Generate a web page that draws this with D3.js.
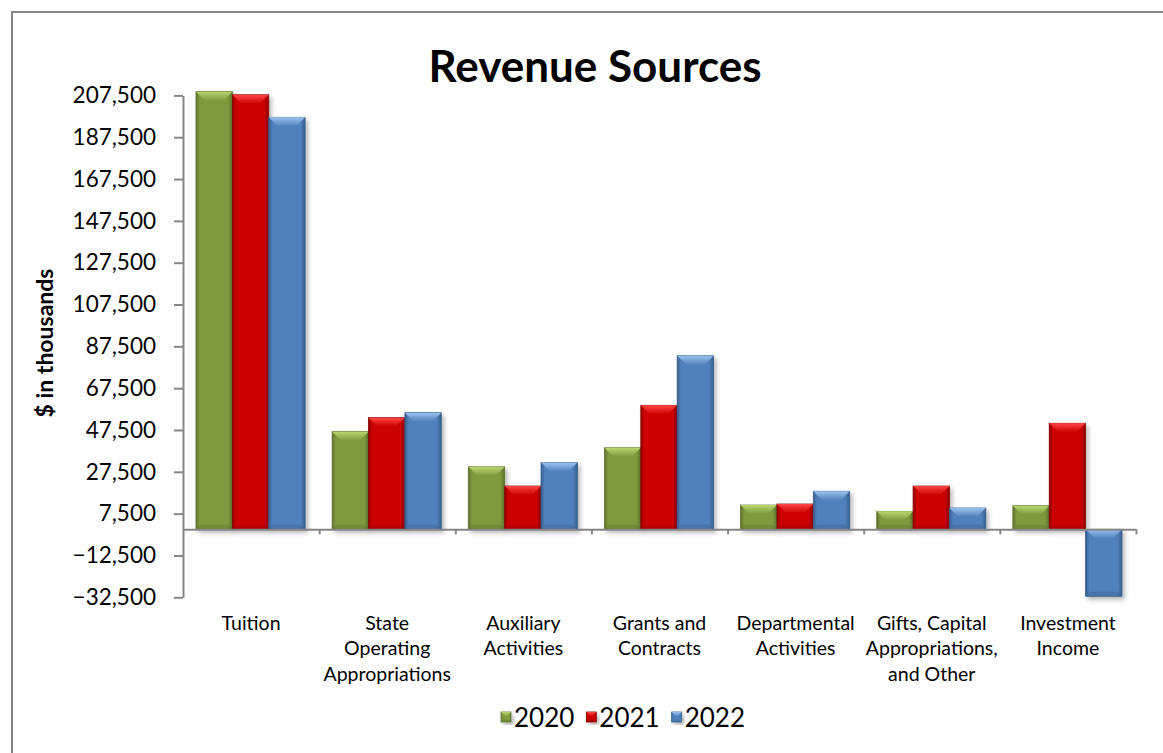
<!DOCTYPE html>
<html><head><meta charset="utf-8">
<script src="https://cdn.jsdelivr.net/npm/d3@7"></script>
<style>
body{margin:0;background:#fff}
svg text{font-family:Lato,'Open Sans',sans-serif;fill:#000}
</style>
</head><body>
<svg id="c" width="1163" height="753"></svg>
<script>
// ---- data ----
const categories = ["Tuition","State Operating Appropriations","Auxiliary Activities","Grants and Contracts","Departmental Activities","Gifts, Capital Appropriations, and Other","Investment Income"];
const categoryLines = [["Tuition"],["State","Operating","Appropriations"],["Auxiliary","Activities"],["Grants and","Contracts"],["Departmental","Activities"],["Gifts, Capital","Appropriations,","and Other"],["Investment","Income"]];
const seriesNames = ["2020","2021","2022"];
const values2020 = [209300, 46700, 29900, 39000, 11600, 8600, 11300];
const values2021 = [207800, 53400, 20700, 59300, 12100, 20700, 50700];
const values2022 = [197000, 55800, 31900, 83000, 18200, 10200, -32000];
const tickValues = [-32500,-12500,7500,27500,47500,67500,87500,107500,127500,147500,167500,187500,207500];
const chartTitle = "Revenue Sources";
const yTitle = "$ in thousands";

// ---- styles ----
const palette = [
  {base:"#7E9A3E", light:"#BAD66F", dark:"#5C732C"},
  {base:"#CC0000", light:"#FF4646", dark:"#8A0000"},
  {base:"#4F81BD", light:"#9CC2EE", dark:"#375E8C"}
];
const seriesValues = [values2020, values2021, values2022];

const svg = d3.select("#c");
const defs = svg.append("defs");
const f = defs.append("filter").attr("id","sh").attr("x","-20%").attr("y","-20%").attr("width","150%").attr("height","150%");
f.append("feDropShadow").attr("dx",2.5).attr("dy",3).attr("stdDeviation",2.2).attr("flood-color","#000").attr("flood-opacity",0.28);

palette.forEach((p,i)=>{
  const gb = defs.append("linearGradient").attr("id","body"+i).attr("x1",0).attr("x2",1).attr("y1",0).attr("y2",0);
  gb.append("stop").attr("offset","0%").attr("stop-color",p.dark);
  gb.append("stop").attr("offset","10%").attr("stop-color",p.base);
  gb.append("stop").attr("offset","88%").attr("stop-color",p.base);
  gb.append("stop").attr("offset","100%").attr("stop-color",p.dark);
  const gt = defs.append("linearGradient").attr("id","top"+i).attr("x1",0).attr("x2",0).attr("y1",0).attr("y2",1);
  gt.append("stop").attr("offset","0%").attr("stop-color",p.light);
  gt.append("stop").attr("offset","100%").attr("stop-color",p.base);
});

// frame
svg.append("rect").attr("x",12).attr("y",12).attr("width",1200).attr("height",800)
  .attr("fill","none").attr("stroke","#868686").attr("stroke-width",2);

// scales
const x0 = d3.scaleBand().domain(categories).range([183,1136]).padding(0);
const bw = x0.bandwidth();
const x1 = d3.scaleBand().domain(seriesNames).range([bw*13/136, bw*122/136]).padding(0);
const y = d3.scaleLinear().domain([-32500,207500]).range([597.3,95.4]);
const bounds = d3.scaleLinear().domain([0,categories.length]).range([183,1136]);

// bars
function bevelBar(g, x, yy, w, h, i){
  const b = Math.min(9, h/2, w/2);
  const bg = g.append("g").attr("filter","url(#sh)");
  bg.append("rect").attr("x",x).attr("y",yy).attr("width",w).attr("height",h)
    .attr("fill","url(#body"+i+")").attr("stroke",palette[i].dark).attr("stroke-width",0.8);
  bg.append("polygon")
    .attr("points",[[x,yy],[x+w,yy],[x+w-b,yy+b],[x+b,yy+b]].map(p=>p.join(",")).join(" "))
    .attr("fill","url(#top"+i+")");
  bg.append("polygon")
    .attr("points",[[x,yy+h],[x+w,yy+h],[x+w-b*0.5,yy+h-b*0.5],[x+b*0.5,yy+h-b*0.5]].map(p=>p.join(",")).join(" "))
    .attr("fill",palette[i].dark).attr("opacity",0.35);
}
const barsG = svg.append("g");
categories.forEach((c,ci)=>{
  seriesNames.forEach((s,si)=>{
    const v = seriesValues[si][ci];
    const top = y(Math.max(v,0)), bot = y(Math.min(v,0));
    bevelBar(barsG, x0(c)+x1(s), top, x1.bandwidth(), bot-top, si);
  });
});

// y axis
const ya = svg.append("g").attr("transform","translate(183,0)")
  .call(d3.axisLeft(y).tickValues(tickValues).tickFormat(d3.format(",")).tickSizeInner(9).tickSizeOuter(0).tickPadding(18));
ya.select(".domain").attr("stroke","#868686").attr("stroke-width",2);
ya.selectAll(".tick line").attr("stroke","#868686").attr("stroke-width",2);
ya.selectAll(".tick text").style("font-size","22.5px").attr("fill","#000");

// x axis (zero line with category boundary ticks)
const xa = svg.append("g").attr("transform",`translate(0,${y(0)})`)
  .call(d3.axisBottom(bounds).tickValues(d3.range(1,categories.length+1)).tickSizeInner(5).tickSizeOuter(0).tickFormat(""));
xa.select(".domain").attr("stroke","#868686").attr("stroke-width",2);
xa.selectAll(".tick line").attr("stroke","#868686").attr("stroke-width",2);

// category labels
const lab = svg.append("g");
categories.forEach((c,ci)=>{
  const t = lab.append("text").attr("x",x0(c)+bw/2).attr("y",630).attr("text-anchor","middle").style("font-size","19.5px");
  categoryLines[ci].forEach((ln,k)=>{
    t.append("tspan").attr("x",x0(c)+bw/2).attr("dy",k===0?0:25.3).text(ln);
  });
});

// title
svg.append("text").attr("x",595).attr("y",82).attr("text-anchor","middle")
  .style("font-size","44px").style("font-weight","bold").text(chartTitle);

// y title
svg.append("text").attr("transform","translate(44,343) rotate(-90)").attr("text-anchor","middle")
  .attr("dominant-baseline","central").style("font-size","23px").style("font-weight","bold").text(yTitle);

// legend
const lg = svg.append("g");
let cx = 0;
seriesNames.forEach((s,i)=>{
  const g = lg.append("g");
  const sw = g.append("g");
  bevelBar(sw, 0, -5, 10, 10, i);
  const t = g.append("text").attr("x",13).attr("y",0).attr("dominant-baseline","central").style("font-size","26px").text(s);
  const w = 13 + t.node().getComputedTextLength();
  g.attr("transform",`translate(${cx},0)`);
  cx += w + 12;
});
const totalW = cx - 12;
lg.attr("transform",`translate(${623 - totalW/2},717)`);
</script>
</body></html>
